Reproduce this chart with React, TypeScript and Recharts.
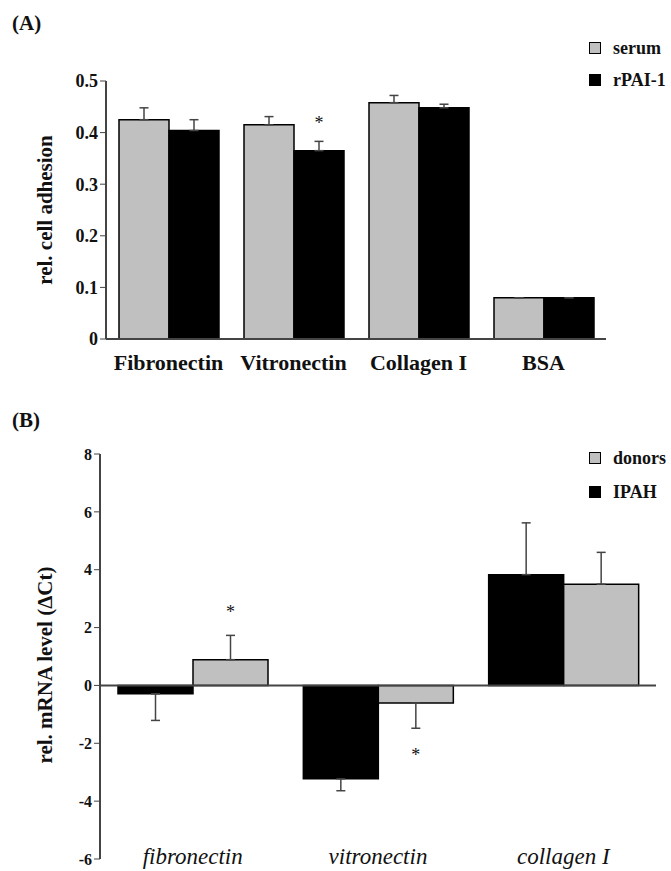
import React from 'react';
import { BarChart, Bar, XAxis, YAxis, ErrorBar, ReferenceLine, LabelList } from 'recharts';

// ---------- Panel A data ----------
const adhesionCategories = ['Fibronectin', 'Vitronectin', 'Collagen I', 'BSA'];
const serumValues = [0.425, 0.415, 0.458, 0.08];
const serumErrors = [0.023, 0.016, 0.014, 0];
const rpaiValues = [0.404, 0.365, 0.448, 0.08];
const rpaiErrors = [0.021, 0.018, 0.007, 0];
const rpaiSignificant = [false, true, false, false];
const adhesionTicks = [0, 0.1, 0.2, 0.3, 0.4, 0.5];

// ---------- Panel B data ----------
const mrnaCategories = ['fibronectin', 'vitronectin', 'collagen I'];
const ipahValues = [-0.29, -3.23, 3.83];
const ipahErrors = [0.92, 0.41, 1.79];
const donorValues = [0.89, -0.61, 3.5];
const donorErrors = [0.84, 0.87, 1.1];
const donorSignificant = [true, true, false];
const mrnaTicks = [-6, -4, -2, 0, 2, 4, 6, 8];

const GREY = '#c0c0c0';
const BLACK = '#000000';
const AXIS = '#444444';
const FONT = '"Liberation Serif", "Times New Roman", serif';

const dirErr = (v: number, e: number) => (v >= 0 ? [0, e] : [e, 0]);

const adhesionData = adhesionCategories.map((c, i) => ({
  name: c,
  serum: serumValues[i],
  serumErr: dirErr(serumValues[i], serumErrors[i]),
  rpai: rpaiValues[i],
  rpaiErr: dirErr(rpaiValues[i], rpaiErrors[i]),
}));

const mrnaData = mrnaCategories.map((c, i) => ({
  name: c,
  ipah: ipahValues[i],
  ipahErr: dirErr(ipahValues[i], ipahErrors[i]),
  donors: donorValues[i],
  donorsErr: dirErr(donorValues[i], donorErrors[i]),
}));

const makeStar =
  (values: number[], errors: number[], sig: boolean[], gapAbove: number, gapBelow: number) =>
  (props: any) => {
    const { x, y, width, height, value } = props;
    let index = props.index;
    if (index === undefined || index === null) index = values.indexOf(value);
    if (!sig[index]) return null;
    const v = values[index];
    const h = Number(height);
    const px = Math.abs(h / v);
    const top = Math.min(Number(y), Number(y) + h);
    const bottom = Math.max(Number(y), Number(y) + h);
    const cx = Number(x) + Number(width) / 2;
    const ty = v >= 0 ? top - errors[index] * px - gapAbove : bottom + errors[index] * px + gapBelow;
    return (
      <text key={`star-${index}`} x={cx} y={ty} textAnchor="middle" fontSize={18} fontFamily={FONT} fill="#111">
        *
      </text>
    );
  };

const LegendBlock = ({ items, top, gap }: { items: { label: string; color: string }[]; top: number; gap: number }) => (
  <div style={{ position: 'absolute', left: 589, top, fontFamily: FONT }}>
    {items.map((it, i) => (
      <div key={it.label} style={{ display: 'flex', alignItems: 'center', height: 20, marginBottom: i === items.length - 1 ? 0 : gap }}>
        <div style={{ width: 10, height: 10, background: it.color, border: '1px solid #000' }} />
        <span style={{ marginLeft: 12, fontWeight: 'bold', fontSize: 18, color: '#111', whiteSpace: 'nowrap' }}>{it.label}</span>
      </div>
    ))}
  </div>
);

const AdhesionTick = (props: any) => {
  const { x, y, payload } = props;
  return (
    <text x={x} y={y + 23} textAnchor="middle" dominantBaseline="central" fontFamily={FONT} fontWeight="bold" fontSize={22} fill="#111">
      {payload.value}
    </text>
  );
};

const MrnaTick = (props: any) => {
  const { x, y, payload } = props;
  return (
    <text x={x} y={y - 3} textAnchor="middle" dominantBaseline="central" fontFamily={FONT} fontStyle="italic" fontSize={23} fill="#111">
      {payload.value}
    </text>
  );
};

export default function App() {
  return (
    <div style={{ position: 'absolute', left: 0, top: 0, width: 671, height: 871, background: '#fff' }}>
      <div style={{ position: 'absolute', left: 12, top: 11, fontFamily: FONT, fontWeight: 'bold', fontSize: 21, color: '#111' }}>(A)</div>
      <div style={{ position: 'absolute', left: 12, top: 408, fontFamily: FONT, fontWeight: 'bold', fontSize: 21, color: '#111' }}>(B)</div>

      <div style={{ position: 'absolute', left: 0, top: 0 }}>
        <BarChart width={671} height={380} data={adhesionData} margin={{ top: 81, right: 65, bottom: 0, left: 30 }} barGap={0} barSize={50}>
          <XAxis
            dataKey="name"
            height={41}
            tickLine={false}
            tickSize={0}
            tickMargin={0}
            interval={0}
            axisLine={{ stroke: AXIS, strokeWidth: 2 }}
            tick={<AdhesionTick />}
          />
          <YAxis
            width={76}
            domain={[0, 0.5]}
            ticks={adhesionTicks}
            tickFormatter={(v: number) => (v === 0 ? '0' : v.toFixed(1))}
            axisLine={{ stroke: AXIS, strokeWidth: 2 }}
            tickLine={{ stroke: AXIS }}
            tick={{ fontFamily: FONT, fontWeight: 'bold', fontSize: 18, fill: '#111' }}
            label={{
              content: () => (
                <text x={45} y={210} transform="rotate(-90 45 210)" textAnchor="middle" dominantBaseline="central" fontFamily={FONT} fontWeight="bold" fontSize={21} fill="#111">
                  rel. cell adhesion
                </text>
              ),
            }}
          />
          <Bar dataKey="serum" fill={GREY} stroke={BLACK} strokeWidth={1.5} isAnimationActive={false}>
            <ErrorBar dataKey="serumErr" width={4.5} stroke={AXIS} strokeWidth={1.5} />
          </Bar>
          <Bar dataKey="rpai" fill={BLACK} stroke={BLACK} strokeWidth={1.5} isAnimationActive={false}>
            <ErrorBar dataKey="rpaiErr" width={4.5} stroke={AXIS} strokeWidth={1.5} />
            <LabelList dataKey="rpai" content={makeStar(rpaiValues, rpaiErrors, rpaiSignificant, 12, 30)} />
          </Bar>
        </BarChart>
      </div>
      <LegendBlock items={[{ label: 'serum', color: GREY }, { label: 'rPAI-1', color: BLACK }]} top={38} gap={12} />

      <div style={{ position: 'absolute', left: 0, top: 380 }}>
        <BarChart width={671} height={491} data={mrnaData} margin={{ top: 74, right: 15, bottom: 0, left: 30 }} barGap={0} barSize={75}>
          <XAxis
            dataKey="name"
            height={12}
            tickLine={false}
            tickSize={0}
            tickMargin={0}
            interval={0}
            axisLine={false}
            tick={<MrnaTick />}
          />
          <YAxis
            width={70}
            domain={[-6, 8]}
            ticks={mrnaTicks}
            axisLine={{ stroke: AXIS, strokeWidth: 2 }}
            tickLine={{ stroke: AXIS }}
            tick={{ fontFamily: FONT, fontWeight: 'bold', fontSize: 16, fill: '#111' }}
            label={{
              content: () => (
                <text x={45} y={285} transform="rotate(-90 45 285)" textAnchor="middle" dominantBaseline="central" fontFamily={FONT} fontWeight="bold" fontSize={21} fill="#111">
                  rel. mRNA level (ΔCt)
                </text>
              ),
            }}
          />
          <ReferenceLine y={0} stroke={AXIS} strokeWidth={2} />
          <Bar dataKey="ipah" fill={BLACK} stroke={BLACK} strokeWidth={1.5} isAnimationActive={false}>
            <ErrorBar dataKey="ipahErr" width={4.5} stroke={AXIS} strokeWidth={1.5} />
          </Bar>
          <Bar dataKey="donors" fill={GREY} stroke={BLACK} strokeWidth={1.5} isAnimationActive={false}>
            <ErrorBar dataKey="donorsErr" width={4.5} stroke={AXIS} strokeWidth={1.5} />
            <LabelList dataKey="donors" content={makeStar(donorValues, donorErrors, donorSignificant, 17, 33)} />
          </Bar>
        </BarChart>
      </div>
      <LegendBlock items={[{ label: 'donors', color: GREY }, { label: 'IPAH', color: BLACK }]} top={448} gap={14} />
    </div>
  );
}
